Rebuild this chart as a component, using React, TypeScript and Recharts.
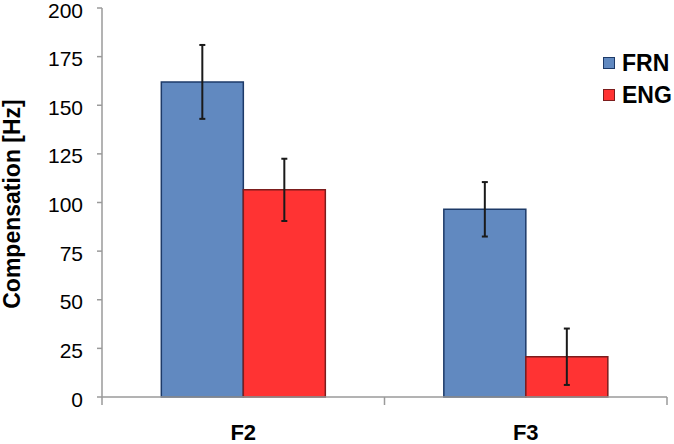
import React from 'react';
import { BarChart, Bar, XAxis, YAxis, ErrorBar, Legend } from 'recharts';

const categories = ['F2', 'F3'];
const seriesNames = ['FRN', 'ENG'];
const frnValues = [162, 96.5];
const frnErrors = [19, 14];
const engValues = [106.5, 20.7];
const engErrors = [16, 14.5];
const yTicks = [0, 25, 50, 75, 100, 125, 150, 175, 200];

const data = categories.map((name, i) => ({
  name,
  FRN: frnValues[i],
  frnErr: frnErrors[i],
  ENG: engValues[i],
  engErr: engErrors[i],
}));

const font = '"Liberation Sans", Arial, sans-serif';
const axisGrey = '#9a9a9a';

// category label at the centre, tick marks at the category edges (Excel style)
const CategoryTick = (props: any) => {
  const { x, y, payload, index, visibleTicksCount } = props;
  const off = payload && payload.offset ? payload.offset : 0;
  const isLast = index === (visibleTicksCount ?? categories.length) - 1;
  return (
    <g>
      <line x1={x - off} y1={y - 8} x2={x - off} y2={y} stroke={axisGrey} strokeWidth={1.5} />
      {isLast && <line x1={x + off} y1={y - 8} x2={x + off} y2={y} stroke={axisGrey} strokeWidth={1.5} />}
      <text x={x} y={y + 35} textAnchor="middle" fontFamily={font} fontWeight="bold" fontSize={22} fill="#000">
        {payload.value}
      </text>
    </g>
  );
};

const ValueTick = (props: any) => {
  const { x, y, payload } = props;
  return (
    <text x={x} y={y + 9.5} textAnchor="end" fontFamily={font} fontSize={21} fill="#000">
      {payload.value}
    </text>
  );
};

const LegendBox = (props: any) => {
  const items = [...(props.payload || [])].sort(
    (a: any, b: any) => seriesNames.indexOf(a.value) - seriesNames.indexOf(b.value)
  );
  return (
    <div style={{ fontFamily: font }}>
      {items.map((it: any) => (
        <div key={it.value} style={{ display: 'flex', alignItems: 'center', height: 32 }}>
          <span
            style={{
              display: 'inline-block', width: 10, height: 10, background: it.color,
              border: `1px solid ${it.payload.stroke}`, marginRight: 7,
            }}
          />
          <span style={{ fontSize: 23, fontWeight: 'bold', color: '#000' }}>{it.value}</span>
        </div>
      ))}
    </div>
  );
};

const App: React.FC = () => (
  <div style={{ position: 'absolute', left: 0, top: 0, background: '#fff' }}>
    <BarChart
      width={674}
      height={444}
      data={data}
      margin={{ top: 8, right: 7, bottom: 0, left: 0 }}
      barCategoryGap="21%"
      barGap={0}
    >
      <XAxis
        dataKey="name"
        height={47}
        axisLine={{ stroke: axisGrey, strokeWidth: 1.5 }}
        tickLine={false}
        tick={<CategoryTick />}
        interval={0}
      />
      <YAxis
        width={102}
        domain={[0, 200]}
        ticks={yTicks}
        interval={0}
        axisLine={{ stroke: axisGrey, strokeWidth: 1.5 }}
        tickLine={{ stroke: axisGrey, strokeWidth: 1.5 }}
        tickSize={5}
        tickMargin={14}
        tick={<ValueTick />}
        label={{
          content: () => (
            <text
              x={20}
              y={204}
              transform="rotate(-90, 20, 204)"
              textAnchor="middle"
              fontFamily={font}
              fontWeight="bold"
              fontSize={23}
              fill="#000"
            >
              Compensation [Hz]
            </text>
          ),
        }}
      />
      <Legend
        layout="horizontal"
        verticalAlign="middle"
        align="center"
        wrapperStyle={{ top: 47, left: 603, width: 71, height: 64 }}
        content={<LegendBox />}
      />
      <Bar dataKey="FRN" fill="#6189c0" stroke="#1d3a68" strokeWidth={1.5} isAnimationActive={false}>
        <ErrorBar dataKey="frnErr" width={3} stroke="#1a1a1a" strokeWidth={2} isAnimationActive={false} />
      </Bar>
      <Bar dataKey="ENG" fill="#ff3333" stroke="#7c1d1d" strokeWidth={1.5} isAnimationActive={false}>
        <ErrorBar dataKey="engErr" width={3} stroke="#1a1a1a" strokeWidth={2} isAnimationActive={false} />
      </Bar>
    </BarChart>
  </div>
);

export default App;
